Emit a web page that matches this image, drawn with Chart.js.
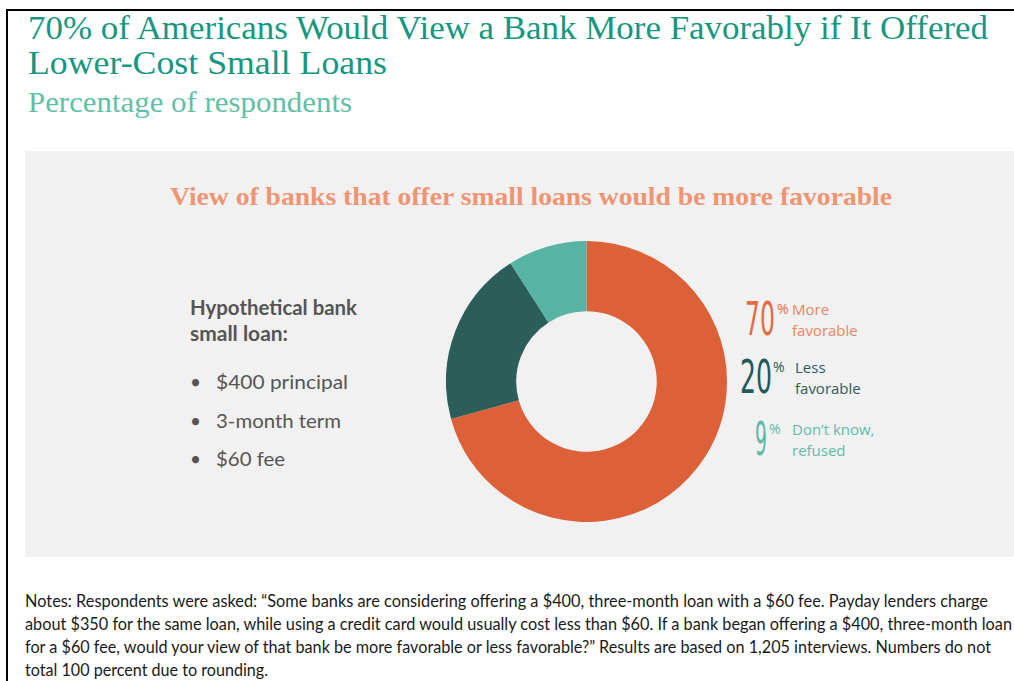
<!DOCTYPE html>
<html>
<head>
<meta charset="utf-8">
<script src="https://cdn.jsdelivr.net/npm/chart.js@4.4.1/dist/chart.umd.min.js"></script>
<style>
  html, body { margin:0; padding:0; width:1014px; height:681px; overflow:hidden; background:#fff; }
  body { position:relative; }
  .frame { position:absolute; left:6px; top:9px; width:1100px; height:700px; border-left:2px solid #000; border-top:2px solid #000; }
  .t { position:absolute; white-space:nowrap; line-height:1; transform-origin:0 0; }
  .title { font-family:"Liberation Serif", serif; font-size:33px; color:#16977f; }
  .sub { font-family:"Liberation Serif", serif; font-size:30px; color:#62bfa5; }
  .panel { position:absolute; left:25px; top:151px; width:989px; height:406px; background:#f1f1f1; }
  .ptitle { font-family:"Liberation Serif", serif; font-size:26px; font-weight:bold; color:#ef9573; }
  .lato { font-family:Lato, "Open Sans", sans-serif; color:#555; }
  .big { font-family:"DejaVu Sans Condensed","DejaVu Sans",sans-serif; font-size:46px; }
  .pct { font-family:"Open Sans", sans-serif; font-size:14px; }
  .lab { font-family:"Open Sans", sans-serif; font-size:15px; line-height:21px; }
  .notes { font-family:Lato, sans-serif; font-size:17px; color:#1a1a1a; }
  #chartBox { position:absolute; left:446px; top:241px; width:281px; height:281px; }
</style>
</head>
<body>
<script>
// ---- data ----
const categories = ["More favorable", "Less favorable", "Don’t know, refused"];
const values = [70, 20, 9];
const labelLines = [["More", "favorable"], ["Less", "favorable"], ["Don’t know,", "refused"]];
const sliceColors = ["#dc6139", "#2b5e58", "#57b4a3"];
const numberColors = ["#e66b43", "#245959", "#5cbaa6"];
const labelColors = ["#ec8662", "#2d5d60", "#62bca9"];
const loanTerms = ["$400 principal", "3-month term", "$60 fee"];
</script>

<div class="frame"></div>
<div class="t title" data-w="960" style="left:28px; top:12px;">70% of Americans Would View a Bank More Favorably if It Offered</div>
<div class="t title" data-w="359" style="left:28px; top:47px;">Lower-Cost Small Loans</div>
<div class="t sub" data-w="324" style="left:28px; top:87px;">Percentage of respondents</div>

<div class="panel"></div>
<div class="t ptitle" data-w="722" style="left:170px; top:184px;">View of banks that offer small loans would be more favorable</div>

<div class="t lato" data-w="167" style="left:190px; top:297px; font-size:20px; font-weight:bold;">Hypothetical bank</div>
<div class="t lato" data-w="98" style="left:190px; top:323px; font-size:20px; font-weight:bold;">small loan:</div>
<div id="terms"></div>

<div id="chartBox"><canvas id="c" width="281" height="281"></canvas></div>
<div id="legend"></div>

<div class="t notes" data-w="963" style="left:25px; top:592px;">Notes: Respondents were asked: “Some banks are considering offering a $400, three-month loan with a $60 fee. Payday lenders charge</div>
<div class="t notes" data-w="987" style="left:25px; top:615px;">about $350 for the same loan, while using a credit card would usually cost less than $60. If a bank began offering a $400, three-month loan</div>
<div class="t notes" data-w="966" style="left:25px; top:638px;">for a $60 fee, would your view of that bank be more favorable or less favorable?” Results are based on 1,205 interviews. Numbers do not</div>
<div class="t notes" data-w="243" style="left:25px; top:661px;">total 100 percent due to rounding.</div>

<script>
// loan terms list
const termsBox = document.getElementById('terms');
const termTops = [372, 411, 449];
const termW = [132, 125, 69];
loanTerms.forEach((s, i) => {
  const dot = document.createElement('div');
  dot.className = 't lato';
  dot.style.cssText = `left:190px; top:${termTops[i]}px; font-size:19px;`;
  dot.textContent = '•';
  termsBox.appendChild(dot);
  const d = document.createElement('div');
  d.className = 't lato';
  d.style.cssText = `left:216px; top:${termTops[i]}px; font-size:19px;`;
  d.dataset.w = termW[i];
  d.textContent = s;
  termsBox.appendChild(d);
});

// legend
const lg = document.getElementById('legend');
const rowTop = [296, 354, 416];
const numLeft = [745, 740, 755];
const numW = [30, 32, 12];
const pctLeft = [777, 773, 769];
const labLeft = [792, 795, 792];
values.forEach((v, i) => {
  const n = document.createElement('div');
  n.className = 't big';
  n.style.cssText = `left:${numLeft[i]}px; top:${rowTop[i]}px; color:${numberColors[i]};`;
  n.dataset.w = numW[i];
  n.textContent = v;
  lg.appendChild(n);
  const p = document.createElement('div');
  p.className = 't pct';
  p.style.cssText = `left:${pctLeft[i]}px; top:${rowTop[i] + 6}px; color:${numberColors[i]};`;
  p.textContent = '%';
  lg.appendChild(p);
  labelLines[i].forEach((ln, j) => {
    const l = document.createElement('div');
    l.className = 't lab';
    l.style.cssText = `left:${labLeft[i]}px; top:${rowTop[i] + 3 + j * 21}px; color:${labelColors[i]};`;
    l.textContent = ln;
    lg.appendChild(l);
  });
});

function fit() {
  document.querySelectorAll('[data-w]').forEach(el => {
    el.style.transform = 'none';
    const w = el.getBoundingClientRect().width;
    const target = parseFloat(el.dataset.w);
    if (w > 0) el.style.transform = `scaleX(${target / w})`;
  });
}
fit();
if (document.fonts && document.fonts.ready) document.fonts.ready.then(fit);

new Chart(document.getElementById('c'), {
  type: 'doughnut',
  data: {
    labels: categories,
    datasets: [{ data: values, backgroundColor: sliceColors, borderWidth: 0, hoverOffset: 0 }]
  },
  options: {
    responsive: false,
    animation: false,
    cutout: '50%',
    rotation: 0,
    layout: { padding: 0 },
    plugins: { legend: { display: false }, tooltip: { enabled: false } }
  }
});
</script>
</body>
</html>
